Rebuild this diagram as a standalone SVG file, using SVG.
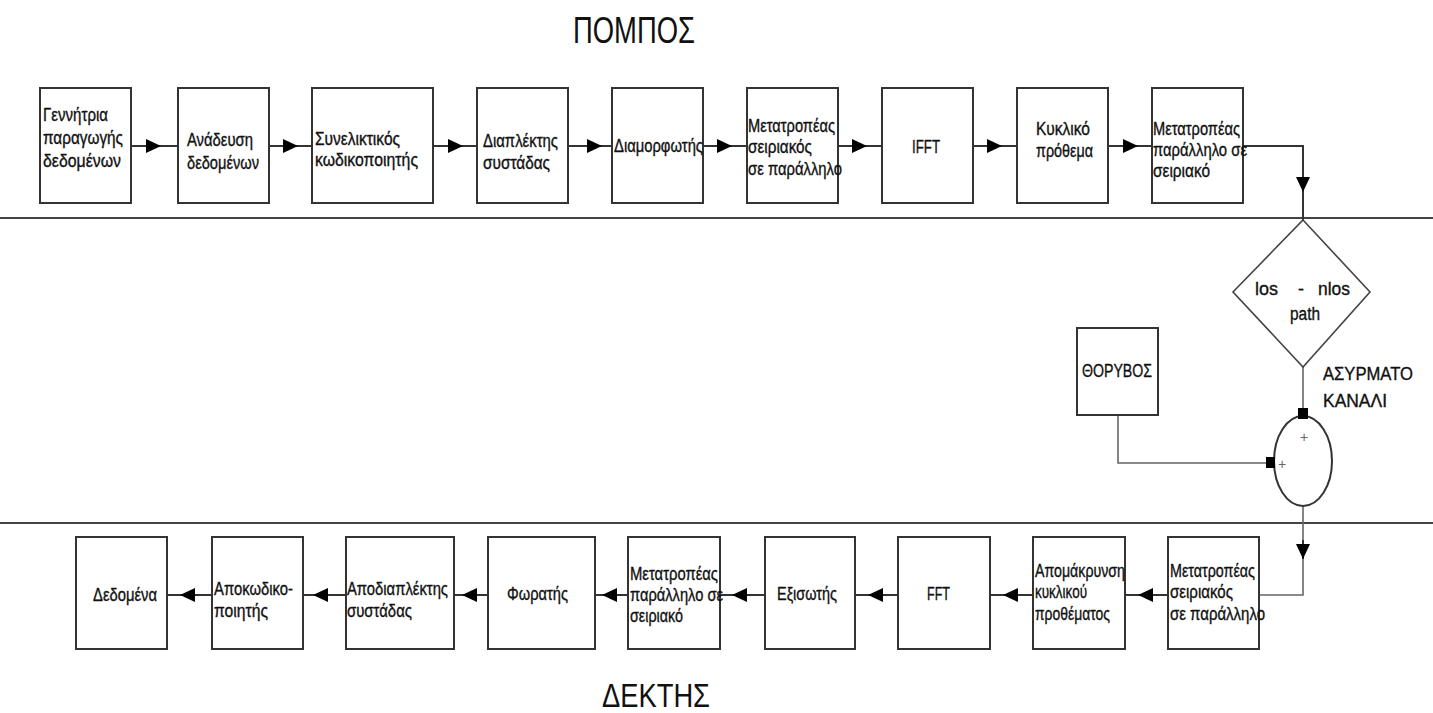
<svg xmlns="http://www.w3.org/2000/svg" width="1433" height="713" viewBox="0 0 1433 713">
<style>
.box{fill:#fff;stroke:#333;stroke-width:2}
.t{font-family:"Liberation Sans",Arial,sans-serif;font-size:18px;fill:#111;stroke:#111;stroke-width:0.35}
.title{font-family:"Liberation Sans",Arial,sans-serif;fill:#111}
.conn{fill:none;stroke:#333;stroke-width:2}
.thin{fill:none;stroke:#666;stroke-width:1.6}
.sep{stroke:#444;stroke-width:2.2}
.plus{font-family:"Liberation Sans",Arial,sans-serif;font-size:14px;fill:#666}
</style>
<defs>
<marker id="ah" viewBox="0 0 15 14" refX="15" refY="7" markerWidth="15" markerHeight="14" markerUnits="userSpaceOnUse" orient="auto">
<path d="M0,0 L15,7 L0,14 z" fill="#000"/>
</marker>
</defs>
<rect width="1433" height="713" fill="#fff"/>
<text class="title" x="573" y="43" font-size="37" textLength="122" lengthAdjust="spacingAndGlyphs">ΠΟΜΠΟΣ</text>
<text class="title" x="602" y="707" font-size="33" textLength="108" lengthAdjust="spacingAndGlyphs">ΔΕΚΤΗΣ</text>
<line class="sep" x1="0" y1="218" x2="1433" y2="218"/>
<line class="sep" x1="0" y1="523" x2="1433" y2="523"/>
<g id="connectors">
<path class="conn" d="M131 146 L161 146 L178 146" marker-mid="url(#ah)"/>
<path class="conn" d="M269 146 L298 146 L312 146" marker-mid="url(#ah)"/>
<path class="conn" d="M433 146 L463 146 L477 146" marker-mid="url(#ah)"/>
<path class="conn" d="M568 146 L602 146 L612 146" marker-mid="url(#ah)"/>
<path class="conn" d="M703 146 L732 146 L747 146" marker-mid="url(#ah)"/>
<path class="conn" d="M838 146 L867 146 L882 146" marker-mid="url(#ah)"/>
<path class="conn" d="M973 146 L1002 146 L1017 146" marker-mid="url(#ah)"/>
<path class="conn" d="M1108 146 L1138 146 L1152 146" marker-mid="url(#ah)"/>
<path class="conn" d="M1243 146 H1303 V220"/>
<path class="conn" d="M1303 175 L1303 192" marker-end="url(#ah)"/>
<path class="thin" d="M1303 367 V409"/>
<path class="thin" d="M1118 415 V463 H1268"/>
<path class="thin" d="M1303 506 V595 H1259"/>
<path class="conn" d="M1303 540 L1303 559" marker-end="url(#ah)"/>
<path class="conn" d="M1168 595 L1138 595 L1125 595" marker-mid="url(#ah)"/>
<path class="conn" d="M1033 595 L1003 595 L990 595" marker-mid="url(#ah)"/>
<path class="conn" d="M898 595 L868 595 L855 595" marker-mid="url(#ah)"/>
<path class="conn" d="M765 595 L732 595 L720 595" marker-mid="url(#ah)"/>
<path class="conn" d="M628 595 L602 595 L595 595" marker-mid="url(#ah)"/>
<path class="conn" d="M488 595 L462 595 L454 595" marker-mid="url(#ah)"/>
<path class="conn" d="M346 595 L313 595 L303 595" marker-mid="url(#ah)"/>
<path class="conn" d="M212 595 L180 595 L167 595" marker-mid="url(#ah)"/>
</g>
<g id="gen"><rect class="box" x="40" y="88" width="91" height="115"/>
<text class="t" x="43" y="121" textLength="65" lengthAdjust="spacingAndGlyphs">Γεννήτρια</text>
<text class="t" x="43" y="144" textLength="80" lengthAdjust="spacingAndGlyphs">παραγωγής</text>
<text class="t" x="43" y="167" textLength="78" lengthAdjust="spacingAndGlyphs">δεδομένων</text></g>
<g id="scramble"><rect class="box" x="178" y="88" width="91" height="115"/>
<text class="t" x="187" y="146" textLength="66" lengthAdjust="spacingAndGlyphs">Ανάδευση</text>
<text class="t" x="187" y="169" textLength="72" lengthAdjust="spacingAndGlyphs">δεδομένων</text></g>
<g id="conv"><rect class="box" x="312" y="88" width="121" height="115"/>
<text class="t" x="315" y="145" textLength="85" lengthAdjust="spacingAndGlyphs">Συνελικτικός</text>
<text class="t" x="315" y="166" textLength="103" lengthAdjust="spacingAndGlyphs">κωδικοποιητής</text></g>
<g id="interleaver"><rect class="box" x="477" y="88" width="91" height="115"/>
<text class="t" x="483" y="147" textLength="75" lengthAdjust="spacingAndGlyphs">Διαπλέκτης</text>
<text class="t" x="483" y="169" textLength="67" lengthAdjust="spacingAndGlyphs">συστάδας</text></g>
<g id="mod"><rect class="box" x="612" y="88" width="91" height="115"/>
<text class="t" x="614" y="152" textLength="89" lengthAdjust="spacingAndGlyphs">Διαμορφωτής</text></g>
<g id="sp"><rect class="box" x="747" y="88" width="91" height="115"/>
<text class="t" x="748" y="132" textLength="87" lengthAdjust="spacingAndGlyphs">Μετατροπέας</text>
<text class="t" x="748" y="153" textLength="64" lengthAdjust="spacingAndGlyphs">σειριακός</text>
<text class="t" x="748" y="175" textLength="94" lengthAdjust="spacingAndGlyphs">σε παράλληλο</text></g>
<g id="ifft"><rect class="box" x="882" y="88" width="91" height="115"/>
<text class="t" x="912" y="153" textLength="28" lengthAdjust="spacingAndGlyphs">IFFT</text></g>
<g id="cp"><rect class="box" x="1017" y="88" width="91" height="115"/>
<text class="t" x="1036" y="135" textLength="54" lengthAdjust="spacingAndGlyphs">Κυκλικό</text>
<text class="t" x="1036" y="157" textLength="57" lengthAdjust="spacingAndGlyphs">πρόθεμα</text></g>
<g id="ps"><rect class="box" x="1152" y="88" width="91" height="115"/>
<text class="t" x="1153" y="135" textLength="87" lengthAdjust="spacingAndGlyphs">Μετατροπέας</text>
<text class="t" x="1153" y="156" textLength="94" lengthAdjust="spacingAndGlyphs">παράλληλο σε</text>
<text class="t" x="1153" y="177" textLength="57" lengthAdjust="spacingAndGlyphs">σειριακό</text></g>
<g id="channel"><polygon points="1303,220 1370,292 1303,367 1233,292" fill="#fff" stroke="#444" stroke-width="1.6"/>
<text class="t" x="1255" y="295" textLength="23" lengthAdjust="spacingAndGlyphs">los</text>
<text class="t" x="1298" y="295">-</text>
<text class="t" x="1318" y="295" textLength="32" lengthAdjust="spacingAndGlyphs">nlos</text>
<text class="t" x="1290" y="320" textLength="30" lengthAdjust="spacingAndGlyphs">path</text>
<text class="t" x="1323" y="380" textLength="90" lengthAdjust="spacingAndGlyphs">ΑΣΥΡΜΑΤΟ</text>
<text class="t" x="1323" y="407" textLength="64" lengthAdjust="spacingAndGlyphs">ΚΑΝΑΛΙ</text></g>
<g id="noise"><rect class="box" x="1077" y="328" width="81" height="87"/>
<text class="t" x="1082" y="377" font-size="15" textLength="70" lengthAdjust="spacingAndGlyphs">ΘΟΡΥΒΟΣ</text></g>
<g id="sum"><ellipse cx="1303" cy="461" rx="29" ry="45" fill="#fff" stroke="#333" stroke-width="2"/>
<rect x="1298" y="408" width="10" height="11" fill="#000"/>
<rect x="1266" y="457" width="9" height="11" fill="#000"/>
<text class="plus" x="1300" y="442">+</text>
<text class="plus" x="1278" y="469">+</text></g>
<g id="s2p"><rect class="box" x="1168" y="537" width="91" height="112"/>
<text class="t" x="1170" y="577" textLength="85" lengthAdjust="spacingAndGlyphs">Μετατροπέας</text>
<text class="t" x="1170" y="598" textLength="63" lengthAdjust="spacingAndGlyphs">σειριακός</text>
<text class="t" x="1170" y="620" textLength="95" lengthAdjust="spacingAndGlyphs">σε παράλληλο</text></g>
<g id="cprem"><rect class="box" x="1033" y="537" width="92" height="112"/>
<text class="t" x="1035" y="577" textLength="90" lengthAdjust="spacingAndGlyphs">Απομάκρυνση</text>
<text class="t" x="1035" y="598" textLength="52" lengthAdjust="spacingAndGlyphs">κυκλικού</text>
<text class="t" x="1035" y="620" textLength="75" lengthAdjust="spacingAndGlyphs">προθέματος</text></g>
<g id="fft"><rect class="box" x="898" y="537" width="92" height="112"/>
<text class="t" x="927" y="600" textLength="23" lengthAdjust="spacingAndGlyphs">FFT</text></g>
<g id="eq"><rect class="box" x="765" y="537" width="90" height="112"/>
<text class="t" x="777" y="600" textLength="60" lengthAdjust="spacingAndGlyphs">Εξισωτής</text></g>
<g id="p2s"><rect class="box" x="628" y="537" width="92" height="112"/>
<text class="t" x="630" y="580" textLength="88" lengthAdjust="spacingAndGlyphs">Μετατροπέας</text>
<text class="t" x="630" y="601" textLength="93" lengthAdjust="spacingAndGlyphs">παράλληλο σε</text>
<text class="t" x="630" y="622" textLength="53" lengthAdjust="spacingAndGlyphs">σειριακό</text></g>
<g id="det"><rect class="box" x="488" y="537" width="107" height="112"/>
<text class="t" x="507" y="600" textLength="61" lengthAdjust="spacingAndGlyphs">Φωρατής</text></g>
<g id="deint"><rect class="box" x="346" y="537" width="108" height="112"/>
<text class="t" x="347" y="595" textLength="101" lengthAdjust="spacingAndGlyphs">Αποδιαπλέκτης</text>
<text class="t" x="347" y="617" textLength="65" lengthAdjust="spacingAndGlyphs">συστάδας</text></g>
<g id="dec"><rect class="box" x="212" y="537" width="91" height="112"/>
<text class="t" x="214" y="595" textLength="79" lengthAdjust="spacingAndGlyphs">Αποκωδικο-</text>
<text class="t" x="214" y="617" textLength="54" lengthAdjust="spacingAndGlyphs">ποιητής</text></g>
<g id="data"><rect class="box" x="76" y="537" width="91" height="112"/>
<text class="t" x="93" y="601" textLength="64" lengthAdjust="spacingAndGlyphs">Δεδομένα</text></g>
</svg>
